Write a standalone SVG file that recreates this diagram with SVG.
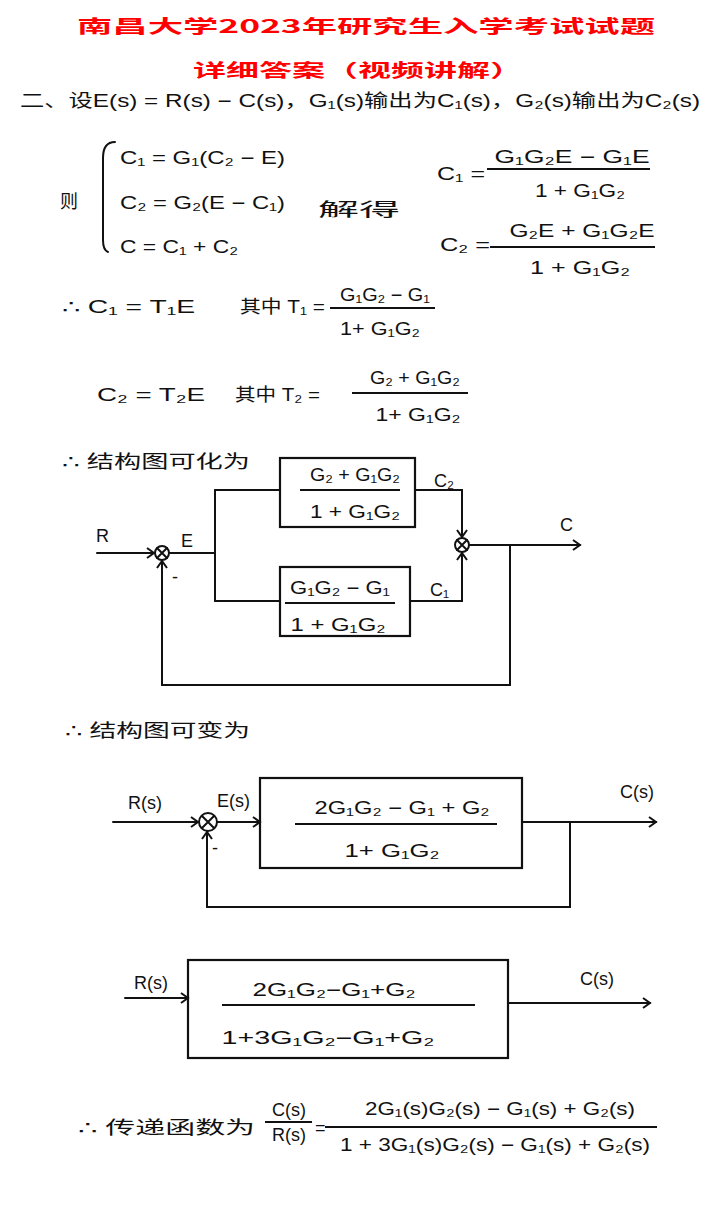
<svg xmlns="http://www.w3.org/2000/svg" width="725" height="1221" viewBox="0 0 725 1221">
<style>
text{font-family:"Liberation Sans","DejaVu Sans","Noto Sans CJK SC",sans-serif;fill:#111;font-size:18px}
.title{font-family:"Noto Sans CJK SC",sans-serif;font-weight:bold;fill:#f00}
.m{text-anchor:middle}
.ln{stroke:#111;stroke-width:2;fill:none;stroke-linecap:round}
.box{stroke:#111;stroke-width:2.2;fill:none}
.frac{stroke:#111;stroke-width:1.8}
</style>
<defs>
<marker id="arr" markerWidth="12" markerHeight="12" refX="9" refY="6" orient="auto" markerUnits="userSpaceOnUse">
<path d="M2,1 L9,6 L2,11" fill="none" stroke="#111" stroke-width="2"/>
</marker>
</defs>
<rect width="725" height="1221" fill="#fff"/>

<g id="title">
<text class="title m" x="366" y="33" font-size="32" textLength="578" lengthAdjust="spacingAndGlyphs">南昌大学2023年研究生入学考试试题</text>
<text class="title m" x="358" y="77" font-size="30" textLength="330" lengthAdjust="spacingAndGlyphs">详细答案（视频讲解）</text>
</g>

<g id="setup">
<text x="20" y="107" font-size="18" textLength="680" lengthAdjust="spacingAndGlyphs">二、设E(s) = R(s) − C(s)，G₁(s)输出为C₁(s)，G₂(s)输出为C₂(s)</text>
</g>

<g id="equations">
<text x="60" y="208" font-size="28">则</text>
<path class="ln" d="M115,142 Q103,142 103,158 V240 Q103,250 108,252"/>
<text x="120" y="164" font-size="19" textLength="165" lengthAdjust="spacingAndGlyphs">C₁ = G₁(C₂ − E)</text>
<text x="120" y="209" font-size="19" textLength="165" lengthAdjust="spacingAndGlyphs">C₂ = G₂(E − C₁)</text>
<text x="120" y="253" font-size="19" textLength="118" lengthAdjust="spacingAndGlyphs">C = C₁ + C₂</text>
<text x="318" y="216" font-size="36" textLength="82" lengthAdjust="spacingAndGlyphs">解得</text>
<text x="437" y="180" font-size="22" textLength="48" lengthAdjust="spacingAndGlyphs">C₁ =</text>
<text class="m" x="572" y="163" font-size="21" textLength="155" lengthAdjust="spacingAndGlyphs">G₁G₂E − G₁E</text>
<line class="frac" x1="487" y1="169" x2="650" y2="169"/>
<text class="m" x="580" y="197" font-size="21" textLength="90" lengthAdjust="spacingAndGlyphs">1 + G₁G₂</text>
<text x="440" y="251" font-size="22" textLength="50" lengthAdjust="spacingAndGlyphs">C₂ =</text>
<text class="m" x="582" y="237" font-size="21" textLength="145" lengthAdjust="spacingAndGlyphs">G₂E + G₁G₂E</text>
<line class="frac" x1="490" y1="247" x2="655" y2="247"/>
<text class="m" x="580" y="274" font-size="21" textLength="100" lengthAdjust="spacingAndGlyphs">1 + G₁G₂</text>
</g>

<g id="t-defs">
<text x="62" y="313" font-size="20" textLength="133" lengthAdjust="spacingAndGlyphs">∴ C₁ = T₁E</text>
<text x="240" y="313" font-size="20" textLength="85" lengthAdjust="spacingAndGlyphs">其中 T₁ =</text>
<text class="m" x="385" y="301" font-size="17" textLength="90" lengthAdjust="spacingAndGlyphs">G₁G₂ − G₁</text>
<line class="frac" x1="330" y1="308" x2="435" y2="308"/>
<text class="m" x="380" y="335" font-size="17" textLength="80" lengthAdjust="spacingAndGlyphs">1+ G₁G₂</text>
<text x="97" y="401" font-size="20" textLength="108" lengthAdjust="spacingAndGlyphs">C₂ = T₂E</text>
<text x="235" y="401" font-size="20" textLength="85" lengthAdjust="spacingAndGlyphs">其中 T₂ =</text>
<text class="m" x="415" y="384" font-size="17" textLength="90" lengthAdjust="spacingAndGlyphs">G₂ + G₁G₂</text>
<line class="frac" x1="352" y1="393" x2="468" y2="393"/>
<text class="m" x="418" y="421" font-size="17" textLength="85" lengthAdjust="spacingAndGlyphs">1+ G₁G₂</text>
</g>

<text x="62" y="468" font-size="26" textLength="188" lengthAdjust="spacingAndGlyphs">∴ 结构图可化为</text>

<g id="diagram1-labels">
<text x="96" y="542" font-size="17">R</text>
<text x="181" y="547" font-size="17">E</text>
<text x="434" y="487" font-size="16">C₂</text>
<text x="430" y="596" font-size="16">C₁</text>
<text x="560" y="531" font-size="19">C</text>
<text x="172" y="583" font-size="17">-</text>
</g>

<g id="block-upper">
<rect class="box" x="280" y="458" width="135" height="69"/>
<text class="m" x="355" y="481" font-size="16" textLength="90" lengthAdjust="spacingAndGlyphs">G₂ + G₁G₂</text>
<line class="frac" x1="300" y1="490" x2="400" y2="490"/>
<text class="m" x="355" y="518" font-size="16" textLength="90" lengthAdjust="spacingAndGlyphs">1 + G₁G₂</text>
</g>
<g id="block-lower">
<rect class="box" x="280" y="567" width="130" height="69"/>
<text class="m" x="340" y="594" font-size="16" textLength="100" lengthAdjust="spacingAndGlyphs">G₁G₂ − G₁</text>
<line class="frac" x1="285" y1="603" x2="395" y2="603"/>
<text class="m" x="338" y="631" font-size="16" textLength="95" lengthAdjust="spacingAndGlyphs">1 + G₁G₂</text>
</g>
<g id="sum1">
<circle class="ln" cx="162" cy="553" r="7"/>
<path class="ln" d="M157,548 L167,558 M167,548 L157,558"/>
</g>
<g id="sum2">
<circle class="ln" cx="462" cy="545" r="7"/>
<path class="ln" d="M457,540 L467,550 M467,540 L457,550"/>
</g>

<text x="65" y="737" font-size="26" textLength="185" lengthAdjust="spacingAndGlyphs">∴ 结构图可变为</text>

<g id="diagram2-labels">
<text x="128" y="809" font-size="17">R(s)</text>
<text x="217" y="807" font-size="16">E(s)</text>
<text x="620" y="798" font-size="18">C(s)</text>
<text x="212" y="854" font-size="17">-</text>
</g>
<g id="block-closed">
<rect class="box" x="260" y="778" width="262" height="90"/>
<text class="m" x="402" y="814" font-size="20" textLength="175" lengthAdjust="spacingAndGlyphs">2G₁G₂ − G₁ + G₂</text>
<line class="frac" x1="295" y1="824" x2="497" y2="824"/>
<text class="m" x="392" y="857" font-size="20" textLength="95" lengthAdjust="spacingAndGlyphs">1+ G₁G₂</text>
</g>
<g id="sum3">
<circle class="ln" cx="208" cy="822" r="9"/>
<path class="ln" d="M202,816 L214,828 M214,816 L202,828"/>
</g>

<g id="diagram3-labels">
<text x="134" y="989" font-size="17">R(s)</text>
<text x="580" y="985" font-size="18">C(s)</text>
</g>
<g id="block-final">
<rect class="box" x="188" y="960" width="320" height="98"/>
<text class="m" x="334" y="996" font-size="20" textLength="163" lengthAdjust="spacingAndGlyphs">2G₁G₂−G₁+G₂</text>
<line class="frac" x1="222" y1="1005" x2="475" y2="1005"/>
<text class="m" x="328" y="1044" font-size="21" textLength="213" lengthAdjust="spacingAndGlyphs">1+3G₁G₂−G₁+G₂</text>
</g>

<g id="result">
<text x="78" y="1134" font-size="26" textLength="177" lengthAdjust="spacingAndGlyphs">∴ 传递函数为</text>
<text class="m" x="289" y="1116" font-size="15">C(s)</text>
<line class="frac" x1="265" y1="1122" x2="312" y2="1122"/>
<text class="m" x="289" y="1141" font-size="15">R(s)</text>
<text x="315" y="1134" font-size="20">=</text>
<text class="m" x="500" y="1115" font-size="16" textLength="270" lengthAdjust="spacingAndGlyphs">2G₁(s)G₂(s) − G₁(s) + G₂(s)</text>
<line class="frac" x1="325" y1="1127" x2="657" y2="1127"/>
<text class="m" x="495" y="1151" font-size="16" textLength="310" lengthAdjust="spacingAndGlyphs">1 + 3G₁(s)G₂(s) − G₁(s) + G₂(s)</text>
</g>

<g id="connectors">
<line class="ln" x1="97" y1="553" x2="154" y2="553" marker-end="url(#arr)"/>
<line class="ln" x1="169" y1="553" x2="215" y2="553"/>
<line class="ln" x1="215" y1="490" x2="215" y2="601"/>
<line class="ln" x1="215" y1="490" x2="280" y2="490"/>
<line class="ln" x1="215" y1="601" x2="280" y2="601"/>
<path class="ln" d="M415,490 H462 V537" marker-end="url(#arr)"/>
<path class="ln" d="M410,601 H462 V553" marker-end="url(#arr)"/>
<line class="ln" x1="469" y1="545" x2="580" y2="545" marker-end="url(#arr)"/>
<path class="ln" d="M510,545 V685 H162 V561" marker-end="url(#arr)"/>

<line class="ln" x1="113" y1="822" x2="198" y2="822" marker-end="url(#arr)"/>
<line class="ln" x1="217" y1="822" x2="260" y2="822" marker-end="url(#arr)"/>
<line class="ln" x1="522" y1="822" x2="656" y2="822" marker-end="url(#arr)"/>
<path class="ln" d="M570,822 V907 H207 V832" marker-end="url(#arr)"/>

<line class="ln" x1="125" y1="998" x2="188" y2="998" marker-end="url(#arr)"/>
<line class="ln" x1="508" y1="1003" x2="650" y2="1003" marker-end="url(#arr)"/>
</g>
</svg>
